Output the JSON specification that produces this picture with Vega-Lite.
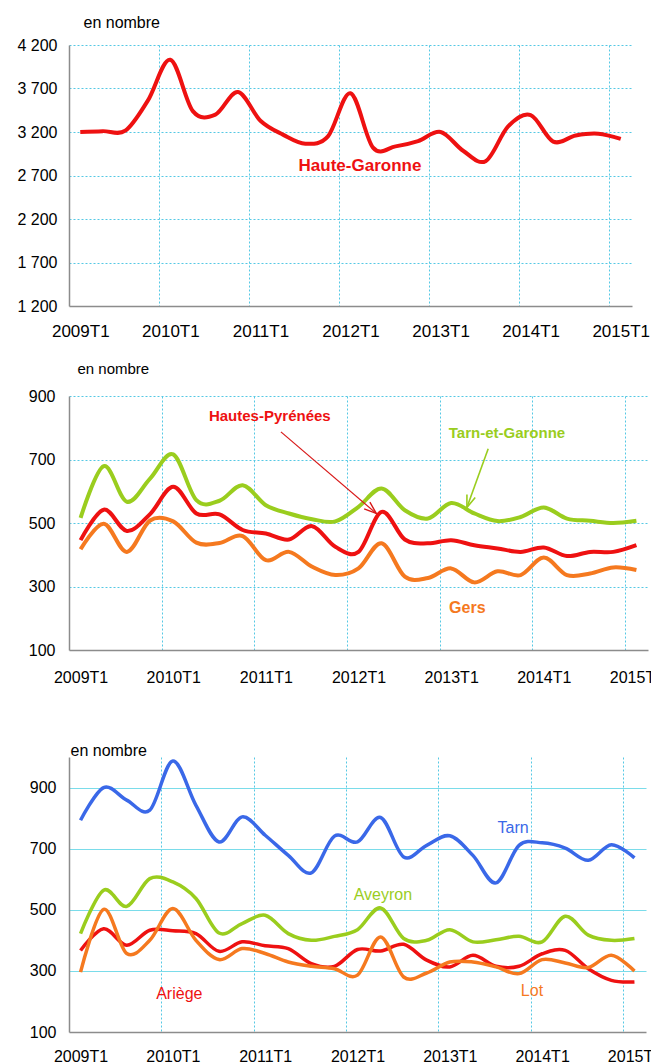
{
  "$schema": "https://vega.github.io/schema/vega-lite/v6.json",
  "padding": {"top": 14, "left": 5, "right": 5, "bottom": 5},
  "spacing": 21,
  "resolve": {"scale": {"color": "independent", "x": "independent", "y": "independent"}},
  "datasets": {
    "p1": [
      {"t": 0, "trimestre": "2009T1", "Haute-Garonne": 3200},
      {"t": 1, "trimestre": "2009T2", "Haute-Garonne": 3210},
      {"t": 2, "trimestre": "2009T3", "Haute-Garonne": 3215},
      {"t": 3, "trimestre": "2009T4", "Haute-Garonne": 3560},
      {"t": 4, "trimestre": "2010T1", "Haute-Garonne": 4030},
      {"t": 5, "trimestre": "2010T2", "Haute-Garonne": 3440},
      {"t": 6, "trimestre": "2010T3", "Haute-Garonne": 3400},
      {"t": 7, "trimestre": "2010T4", "Haute-Garonne": 3660},
      {"t": 8, "trimestre": "2011T1", "Haute-Garonne": 3330},
      {"t": 9, "trimestre": "2011T2", "Haute-Garonne": 3170},
      {"t": 10, "trimestre": "2011T3", "Haute-Garonne": 3065},
      {"t": 11, "trimestre": "2011T4", "Haute-Garonne": 3150},
      {"t": 12, "trimestre": "2012T1", "Haute-Garonne": 3645},
      {"t": 13, "trimestre": "2012T2", "Haute-Garonne": 3020},
      {"t": 14, "trimestre": "2012T3", "Haute-Garonne": 3035},
      {"t": 15, "trimestre": "2012T4", "Haute-Garonne": 3095},
      {"t": 16, "trimestre": "2013T1", "Haute-Garonne": 3200},
      {"t": 17, "trimestre": "2013T2", "Haute-Garonne": 2985},
      {"t": 18, "trimestre": "2013T3", "Haute-Garonne": 2865},
      {"t": 19, "trimestre": "2013T4", "Haute-Garonne": 3265},
      {"t": 20, "trimestre": "2014T1", "Haute-Garonne": 3395},
      {"t": 21, "trimestre": "2014T2", "Haute-Garonne": 3090},
      {"t": 22, "trimestre": "2014T3", "Haute-Garonne": 3160},
      {"t": 23, "trimestre": "2014T4", "Haute-Garonne": 3180},
      {"t": 24, "trimestre": "2015T1", "Haute-Garonne": 3120}
    ],
    "p2": [
      {"t": 0, "trimestre": "2009T1", "Tarn-et-Garonne": 516, "Hautes-Pyrénées": 446, "Gers": 417},
      {"t": 1, "trimestre": "2009T2", "Tarn-et-Garonne": 679, "Hautes-Pyrénées": 542, "Gers": 498},
      {"t": 2, "trimestre": "2009T3", "Tarn-et-Garonne": 567, "Hautes-Pyrénées": 475, "Gers": 409},
      {"t": 3, "trimestre": "2009T4", "Tarn-et-Garonne": 640, "Hautes-Pyrénées": 528, "Gers": 508},
      {"t": 4, "trimestre": "2010T1", "Tarn-et-Garonne": 716, "Hautes-Pyrénées": 614, "Gers": 505},
      {"t": 5, "trimestre": "2010T2", "Tarn-et-Garonne": 572, "Hautes-Pyrénées": 530, "Gers": 438},
      {"t": 6, "trimestre": "2010T3", "Tarn-et-Garonne": 570, "Hautes-Pyrénées": 527, "Gers": 437},
      {"t": 7, "trimestre": "2010T4", "Tarn-et-Garonne": 619, "Hautes-Pyrénées": 478, "Gers": 459},
      {"t": 8, "trimestre": "2011T1", "Tarn-et-Garonne": 556, "Hautes-Pyrénées": 467, "Gers": 383},
      {"t": 9, "trimestre": "2011T2", "Tarn-et-Garonne": 530, "Hautes-Pyrénées": 448, "Gers": 409},
      {"t": 10, "trimestre": "2011T3", "Tarn-et-Garonne": 512, "Hautes-Pyrénées": 490, "Gers": 362},
      {"t": 11, "trimestre": "2011T4", "Tarn-et-Garonne": 505, "Hautes-Pyrénées": 425, "Gers": 336},
      {"t": 12, "trimestre": "2012T1", "Tarn-et-Garonne": 551, "Hautes-Pyrénées": 409, "Gers": 357},
      {"t": 13, "trimestre": "2012T2", "Tarn-et-Garonne": 609, "Hautes-Pyrénées": 535, "Gers": 436},
      {"t": 14, "trimestre": "2012T3", "Tarn-et-Garonne": 540, "Hautes-Pyrénées": 448, "Gers": 331},
      {"t": 15, "trimestre": "2012T4", "Tarn-et-Garonne": 514, "Hautes-Pyrénées": 436, "Gers": 327},
      {"t": 16, "trimestre": "2013T1", "Tarn-et-Garonne": 563, "Hautes-Pyrénées": 446, "Gers": 357},
      {"t": 17, "trimestre": "2013T2", "Tarn-et-Garonne": 530, "Hautes-Pyrénées": 430, "Gers": 313},
      {"t": 18, "trimestre": "2013T3", "Tarn-et-Garonne": 506, "Hautes-Pyrénées": 420, "Gers": 348},
      {"t": 19, "trimestre": "2013T4", "Tarn-et-Garonne": 519, "Hautes-Pyrénées": 409, "Gers": 336},
      {"t": 20, "trimestre": "2014T1", "Tarn-et-Garonne": 549, "Hautes-Pyrénées": 423, "Gers": 391},
      {"t": 21, "trimestre": "2014T2", "Tarn-et-Garonne": 514, "Hautes-Pyrénées": 396, "Gers": 336},
      {"t": 22, "trimestre": "2014T3", "Tarn-et-Garonne": 507, "Hautes-Pyrénées": 409, "Gers": 341},
      {"t": 23, "trimestre": "2014T4", "Tarn-et-Garonne": 500, "Hautes-Pyrénées": 409, "Gers": 360},
      {"t": 24, "trimestre": "2015T1", "Tarn-et-Garonne": 507, "Hautes-Pyrénées": 430, "Gers": 352}
    ],
    "p3": [
      {"t": 0, "trimestre": "2009T1", "Tarn": 793, "Aveyron": 422, "Ariège": 367, "Lot": 296},
      {"t": 1, "trimestre": "2009T2", "Tarn": 900, "Aveyron": 564, "Ariège": 438, "Lot": 501},
      {"t": 2, "trimestre": "2009T3", "Tarn": 859, "Aveyron": 511, "Ariège": 384, "Lot": 357},
      {"t": 3, "trimestre": "2009T4", "Tarn": 826, "Aveyron": 602, "Ariège": 433, "Lot": 400},
      {"t": 4, "trimestre": "2010T1", "Tarn": 987, "Aveyron": 591, "Ariège": 431, "Lot": 504},
      {"t": 5, "trimestre": "2010T2", "Tarn": 842, "Aveyron": 537, "Ariège": 422, "Lot": 400},
      {"t": 6, "trimestre": "2010T3", "Tarn": 722, "Aveyron": 424, "Ariège": 364, "Lot": 337},
      {"t": 7, "trimestre": "2010T4", "Tarn": 804, "Aveyron": 455, "Ariège": 395, "Lot": 373},
      {"t": 8, "trimestre": "2011T1", "Tarn": 744, "Aveyron": 482, "Ariège": 382, "Lot": 357},
      {"t": 9, "trimestre": "2011T2", "Tarn": 678, "Aveyron": 422, "Ariège": 373, "Lot": 329},
      {"t": 10, "trimestre": "2011T3", "Tarn": 621, "Aveyron": 400, "Ariège": 324, "Lot": 315},
      {"t": 11, "trimestre": "2011T4", "Tarn": 741, "Aveyron": 413, "Ariège": 315, "Lot": 307},
      {"t": 12, "trimestre": "2012T1", "Tarn": 722, "Aveyron": 435, "Ariège": 370, "Lot": 286},
      {"t": 13, "trimestre": "2012T2", "Tarn": 802, "Aveyron": 506, "Ariège": 365, "Lot": 411},
      {"t": 14, "trimestre": "2012T3", "Tarn": 673, "Aveyron": 406, "Ariège": 387, "Lot": 280},
      {"t": 15, "trimestre": "2012T4", "Tarn": 711, "Aveyron": 400, "Ariège": 335, "Lot": 293},
      {"t": 16, "trimestre": "2013T1", "Tarn": 742, "Aveyron": 435, "Ariège": 313, "Lot": 329},
      {"t": 17, "trimestre": "2013T2", "Tarn": 678, "Aveyron": 395, "Ariège": 351, "Lot": 329},
      {"t": 18, "trimestre": "2013T3", "Tarn": 588, "Aveyron": 402, "Ariège": 315, "Lot": 313},
      {"t": 19, "trimestre": "2013T4", "Tarn": 711, "Aveyron": 413, "Ariège": 315, "Lot": 291},
      {"t": 20, "trimestre": "2014T1", "Tarn": 719, "Aveyron": 395, "Ariège": 356, "Lot": 337},
      {"t": 21, "trimestre": "2014T2", "Tarn": 702, "Aveyron": 479, "Ariège": 367, "Lot": 326},
      {"t": 22, "trimestre": "2014T3", "Tarn": 662, "Aveyron": 417, "Ariège": 307, "Lot": 311},
      {"t": 23, "trimestre": "2014T4", "Tarn": 713, "Aveyron": 400, "Ariège": 269, "Lot": 351},
      {"t": 24, "trimestre": "2015T1", "Tarn": 670, "Aveyron": 406, "Ariège": 264, "Lot": 300}
    ]
  },
  "vconcat": [
    {
      "width": 563,
      "height": 261,
      "layer": [
        {
          "data": {"name": "p1"},
          "mark": {"type": "line", "interpolate": "cardinal", "strokeWidth": 4, "color": "#EE1111"},
          "encoding": {
            "x": {
              "field": "t", "type": "quantitative",
              "scale": {"domain": [-0.5, 24.5], "nice": false, "zero": false},
              "axis": {
                "title": null,
                "values": [-0.5, 3.5, 7.5, 11.5, 15.5, 19.5, 23.5],
                "labelExpr": "(2009 + (datum.value + 0.5) / 4) + 'T1'",
                "labelOffset": 11.26, "labelPadding": 17, "labelFontSize": 17,
                "grid": true,
                "gridOpacity": {"condition": {"test": "datum.value < 0", "value": 0}, "value": 1},
                "minExtent": 34, "maxExtent": 34
              }
            },
            "y": {
              "field": "Haute-Garonne", "type": "quantitative",
              "scale": {"domain": [1200, 4200], "nice": false, "zero": false},
              "axis": {
                "title": "en nombre", "titleAngle": 0, "titleAlign": "left", "titleBaseline": "alphabetic",
                "titleX": 14, "titleY": -18, "titleFontSize": 16,
                "values": [1200, 1700, 2200, 2700, 3200, 3700, 4200],
                "labelExpr": "replace(format(datum.value, ','), ',', ' ')",
                "labelPadding": 12, "labelFontSize": 16,
                "grid": true,
                "gridOpacity": {"condition": {"test": "datum.value <= 1200", "value": 0}, "value": 1},
                "minExtent": 64, "maxExtent": 64
              }
            }
          }
        },
        {
          "data": {"values": [{}]},
          "mark": {"type": "text", "fontWeight": "bold", "fontSize": 17, "color": "#EE1111", "align": "center", "baseline": "middle"},
          "encoding": {"x": {"datum": 12.42}, "y": {"datum": 2810}, "text": {"value": "Haute-Garonne"}}
        }
      ]
    },
    {
      "width": 579,
      "height": 254,
      "layer": [
        {
          "data": {"name": "p2"},
          "transform": [{"fold": ["Tarn-et-Garonne", "Hautes-Pyrénées", "Gers"], "as": ["departement", "nombre"]}],
          "mark": {"type": "line", "interpolate": "cardinal", "strokeWidth": 4},
          "encoding": {
            "x": {
              "field": "t", "type": "quantitative",
              "scale": {"domain": [-0.5, 24.5], "nice": false, "zero": false},
              "axis": {
                "title": null,
                "values": [-0.5, 3.5, 7.5, 11.5, 15.5, 19.5, 23.5],
                "labelExpr": "(2009 + (datum.value + 0.5) / 4) + 'T1'",
                "labelOffset": 11.58, "labelPadding": 19, "labelFontSize": 16,
                "grid": true,
                "gridOpacity": {"condition": {"test": "datum.value < 0", "value": 0}, "value": 1},
                "minExtent": 71, "maxExtent": 71
              }
            },
            "y": {
              "field": "nombre", "type": "quantitative",
              "scale": {"domain": [100, 900], "nice": false, "zero": false},
              "axis": {
                "title": "en nombre", "titleAngle": 0, "titleAlign": "left", "titleBaseline": "alphabetic",
                "titleX": 8, "titleY": -23, "titleFontSize": 15,
                "values": [100, 300, 500, 700, 900],
                "labelPadding": 14, "labelFontSize": 16,
                "grid": true,
                "gridOpacity": {"condition": {"test": "datum.value <= 100", "value": 0}, "value": 1},
                "minExtent": 57, "maxExtent": 57
              }
            },
            "color": {
              "field": "departement", "type": "nominal",
              "scale": {"domain": ["Tarn-et-Garonne", "Hautes-Pyrénées", "Gers"], "range": ["#9ACD1E", "#EE1111", "#F5791F"]},
              "legend": null
            }
          }
        },
        {
          "data": {"values": [{}]},
          "mark": {"type": "text", "fontWeight": "bold", "fontSize": 15, "color": "#EE1111", "align": "center", "baseline": "middle"},
          "encoding": {"x": {"datum": 8.17}, "y": {"datum": 837}, "text": {"value": "Hautes-Pyrénées"}}
        },
        {
          "data": {"values": [{}]},
          "mark": {"type": "text", "fontWeight": "bold", "fontSize": 15, "color": "#9ACD1E", "align": "center", "baseline": "middle"},
          "encoding": {"x": {"datum": 18.41}, "y": {"datum": 782}, "text": {"value": "Tarn-et-Garonne"}}
        },
        {
          "data": {"values": [{}]},
          "mark": {"type": "text", "fontWeight": "bold", "fontSize": 16, "color": "#F5791F", "align": "center", "baseline": "middle"},
          "encoding": {"x": {"datum": 16.7}, "y": {"datum": 232}, "text": {"value": "Gers"}}
        },
        {
          "data": {"values": [{}]},
          "mark": {"type": "rule", "color": "#D81818", "strokeWidth": 1.2},
          "encoding": {"x": {"datum": 8.65}, "y": {"datum": 787}, "x2": {"datum": 12.77}, "y2": {"datum": 530}}
        },
        {
          "data": {"values": [{}]},
          "mark": {"type": "point", "shape": "M -0.36 1 L 0 0 L 0.36 1", "size": 600, "filled": false, "opacity": 1, "color": "#D81818", "strokeWidth": 1.4, "angle": 130.5},
          "encoding": {"x": {"datum": 12.77}, "y": {"datum": 530}}
        },
        {
          "data": {"values": [{}]},
          "mark": {"type": "rule", "color": "#9ACD1E", "strokeWidth": 1.6},
          "encoding": {"x": {"datum": 17.6}, "y": {"datum": 734}, "x2": {"datum": 16.68}, "y2": {"datum": 549}}
        },
        {
          "data": {"values": [{}]},
          "mark": {"type": "point", "shape": "M -0.36 1 L 0 0 L 0.36 1", "size": 600, "filled": false, "opacity": 1, "color": "#9ACD1E", "strokeWidth": 1.6, "angle": 200},
          "encoding": {"x": {"datum": 16.68}, "y": {"datum": 549}}
        }
      ]
    },
    {
      "width": 577,
      "height": 275,
      "layer": [
        {
          "data": {"name": "p3"},
          "transform": [{"fold": ["Tarn", "Aveyron", "Ariège", "Lot"], "as": ["departement", "nombre"]}],
          "mark": {"type": "line", "interpolate": "cardinal", "strokeWidth": 3.5},
          "encoding": {
            "x": {
              "field": "t", "type": "quantitative",
              "scale": {"domain": [-0.5, 24.5], "nice": false, "zero": false},
              "axis": {
                "title": null,
                "values": [-0.5, 3.5, 7.5, 11.5, 15.5, 19.5, 23.5],
                "labelExpr": "(2009 + (datum.value + 0.5) / 4) + 'T1'",
                "labelOffset": 11.54, "labelPadding": 16, "labelFontSize": 16,
                "grid": true,
                "gridOpacity": {"condition": {"test": "datum.value < 0", "value": 0}, "value": 1}
              }
            },
            "y": {
              "field": "nombre", "type": "quantitative",
              "scale": {"domain": [100, 1000], "nice": false, "zero": false},
              "axis": {
                "title": "en nombre", "titleAngle": 0, "titleAlign": "left", "titleBaseline": "alphabetic",
                "titleX": 1, "titleY": -2, "titleFontSize": 16,
                "values": [100, 300, 500, 700, 900],
                "labelPadding": 13, "labelFontSize": 16,
                "grid": true, "gridDash": [], "gridColor": "#7ADCEA", "gridWidth": 1.2,
                "gridOpacity": {"condition": {"test": "datum.value <= 100", "value": 0}, "value": 1},
                "minExtent": 54, "maxExtent": 54
              }
            },
            "color": {
              "field": "departement", "type": "nominal",
              "scale": {"domain": ["Tarn", "Aveyron", "Ariège", "Lot"], "range": ["#3A68E8", "#9ACD1E", "#EE1111", "#F5791F"]},
              "legend": null
            }
          }
        },
        {
          "data": {"values": [{}]},
          "mark": {"type": "text", "fontSize": 16, "color": "#3A68E8", "align": "center", "baseline": "middle"},
          "encoding": {"x": {"datum": 18.74}, "y": {"datum": 768}, "text": {"value": "Tarn"}}
        },
        {
          "data": {"values": [{}]},
          "mark": {"type": "text", "fontSize": 16, "color": "#9ACD1E", "align": "center", "baseline": "middle"},
          "encoding": {"x": {"datum": 13.1}, "y": {"datum": 549}, "text": {"value": "Aveyron"}}
        },
        {
          "data": {"values": [{}]},
          "mark": {"type": "text", "fontSize": 16, "color": "#EE1111", "align": "center", "baseline": "middle"},
          "encoding": {"x": {"datum": 4.28}, "y": {"datum": 224}, "text": {"value": "Ariège"}}
        },
        {
          "data": {"values": [{}]},
          "mark": {"type": "text", "fontSize": 16, "color": "#F5791F", "align": "center", "baseline": "middle"},
          "encoding": {"x": {"datum": 19.56}, "y": {"datum": 234}, "text": {"value": "Lot"}}
        }
      ]
    }
  ],
  "config": {
    "view": {"stroke": null},
    "font": "Liberation Sans",
    "axis": {
      "labelFont": "Liberation Sans", "titleFont": "Liberation Sans",
      "labelColor": "#000000", "titleColor": "#000000", "titleFontWeight": "normal",
      "ticks": false, "domainColor": "#8c8c8c", "domainWidth": 1.5,
      "gridColor": "#55C8E4", "gridDash": [2, 2], "gridWidth": 1,
      "labelOverlap": false, "labelFlush": false, "labelBound": false
    },
    "text": {"font": "Liberation Sans"}
  }
}
